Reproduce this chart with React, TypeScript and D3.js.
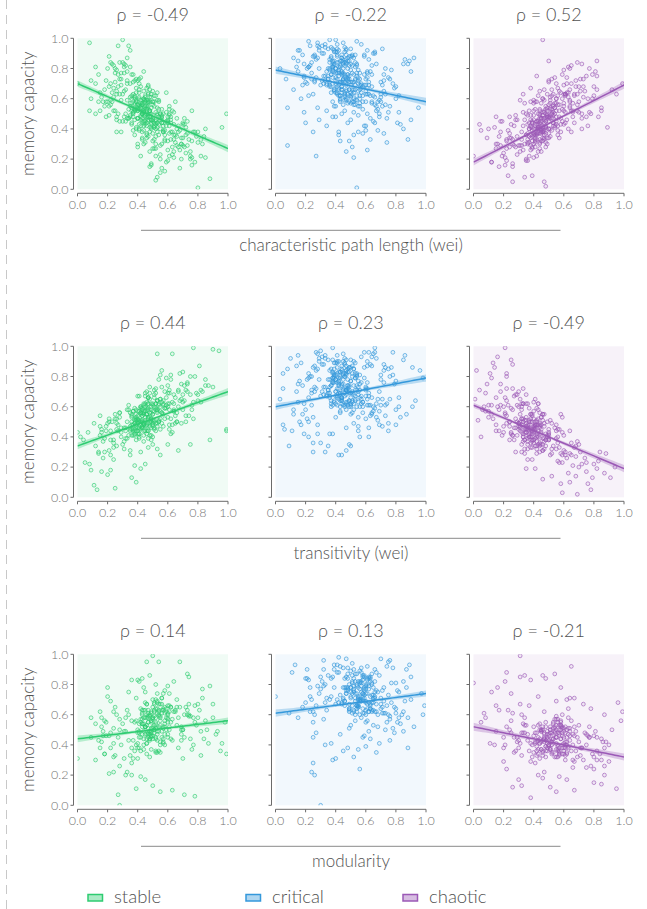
import React from "react";
import * as d3 from "d3";

const regimes = ["stable", "critical", "chaotic"];
const regimeColors = ["#2ecc71", "#3498db", "#9b59b6"];
const regimeBg = ["#f0fbf5", "#f2f8fd", "#f7f2f9"];
const metrics = ["characteristic path length (wei)", "transitivity (wei)", "modularity"];
const rhoLabels = [
  ["-0.49", "-0.22", "0.52"],
  ["0.44", "0.23", "-0.49"],
  ["0.14", "0.13", "-0.21"],
];
// regression line values at x = 0 and x = 1
const fitAtZero = [
  [0.7, 0.79, 0.18],
  [0.34, 0.6, 0.61],
  [0.44, 0.61, 0.52],
];
const fitAtOne = [
  [0.27, 0.58, 0.69],
  [0.7, 0.79, 0.19],
  [0.56, 0.74, 0.32],
];
// confidence band half widths: near the data centre and at the far edge
const bandMid = [
  [0.008, 0.008, 0.008],
  [0.008, 0.008, 0.008],
  [0.008, 0.008, 0.009],
];
const bandEdge = [
  [0.024, 0.026, 0.024],
  [0.024, 0.024, 0.024],
  [0.022, 0.024, 0.026],
];
const tickValues = [0, 0.2, 0.4, 0.6, 0.8, 1.0];
const tickLabels = ["0.0", "0.2", "0.4", "0.6", "0.8", "1.0"];

// scatter points as "XXYY" (x and y in hundredths)
const pathStable = `
4553 3862 5243 4140 3359 6142 2768 4735 5550 3654 4963 5836 2959 4072 4445 5056 4255 6635 3447 4866
5341 3958 4650 3165 5744 4347 6338 3751 4561 2461 5133 4056 6048 3570 4442 5458 3245 4852 7034 4160
3657 5546 4338 2863 6443 4759 3941 5227 4549 3370 5964 4254 2648 5037 4667 3853 6930 4444 5648 3148
4257 7329 3662 4946 5540 2256 4173 6153 3447 5032 4758 3940 6238 2577 4451 5344 3763 4838 6826 4056
5459 3045 4647 8031 3854 5141 4268 6536 3549 4555 2969 5739 4333 6044 3872 4950 2750 5262 4143 7522
3557 4637 5653 3266 4848 6246 4030 5359 3751 4465 2358 5529 4769 3643 6137 4254 3177 5046 4439 6920
3861 5158 4745 2665 4334 5742 3953 6433 4861 3548 4452 5235 2973 4764 6149 3739 4558 5523 4047 3372
8435 4357 5065 3644 6728 4948 2155 5436 4166 3856 5833 4659 3250 4941 7337 3967 5547 4242 2884 6244
4531 3660 5364 4052 7143 3453 4636 5951 2646 4768 3347 5230 4460 6032 3771 4851 1958 5644 4139 6629
3063 4954 5738 4350 3846 6233 4763 2552 5127 4545 0897 2795 3099 3495 1972 0852 1281 2284 2080 0960
5308 5206 8001 8807 9950 9641 7616 6814 8521 4917 5511 7621 6323 5812 4815 2638 2938 1458 1250 0972
2383 2482 2679 3084 3378 3581 3776 4274 4478 3183 2776 3387 7224 7029 6425 7520 7818 6421 8222 0070
`;
const pathStableMore = `
1564 1855 2168 2452 1270 1661 2259 2571 1948 2364 1758 2663 1476 2058 2845 2270 1552 2467 1866 2149
6045 6352 6738 7043 6248 6531 7236 5942 6839 7147 7433 7838 6451 6934 7345 8038 7632 6640 6155 5738
6930 7241 7525 8233 8540 6328 5945 6647 7044 7738 6150 5832 6436 6742 7128 7935 8330 6558 6026 7652
4248 4654 5047 4351 4757 5245 4153 4559 4944 5350 4460 4852 4047 4655 5141 5649 4642 4356 5144 4758
3959 4452 5058 4350 4946 4161 5354 3852 4748 4543 2580 2977 3282 3676 3973 4170 2873 3181 2188 3592
4430 4825 5222 4028 5630 6019 4634 5027 3836 4222 5520 5918 6122 4916 5614
3555 3860 4053 4249 4457 4648 4852 5045 5251 5443 3748 3958 4156 4350 4554 4746 4961 5142 5349 5647
3652 3857 4047 4259 4451 4644 4858 5049 5240 5453 3561 3750 4155 4345 4562 4750 4943 5155 5338 5750
4052 4246 4459 4653 4841 5058 5246 5448 5644 5839 3964 4164 4356 4548 4755 4940 5162 5344 5550 6046
`;
const pathCritical = `
4572 3881 5264 4163 3375 6167 2786 4759 5574 3671 4988 5862 2980 4091 4468 5079 4277 6661 3469 4887
5366 3982 4674 3190 5769 4371 6362 3776 4584 2473 5158 4080 6073 3593 4466 5482 3270 4876 7063 4184
3680 5570 4362 2887 6468 4784 3965 5251 4573 3394 5988 4278 2672 5062 4691 3878 6457 4468 5673 3172
4281 7356 3686 4971 5565 2281 4196 6178 3470 5057 4783 3966 6263 2588 4476 5369 3787 4863 6853 4080
5483 3069 4671 8060 3879 5166 4292 6562 3573 4580 2992 5764 4358 6069 3893 4975 2774 5287 4168 7551
3580 4662 5677 3290 4872 6271 4055 5384 3776 4489 2382 5555 4793 3668 6163 4279 3195 5071 4464 6950
3885 5182 4770 2689 4359 5767 3978 6458 4885 3573 4477 5260 2994 4789 6174 3764 4583 5549 4072 3396
8262 4382 5088 3669 6755 4973 2180 5462 4191 3881 5858 4684 3275 4966 7363 3991 5572 4267 2897 6269
4556 3684 5389 4077 7169 3478 4661 5976 2671 4792 3372 5256 4485 6058 3794 4876 1983 5669 4164 6656
0854 0829 1951 2044 2538 2722 3442 3848 4332 4236 4725 5128 5221 5401 5837 6126 6333 6839 7237 7431
8144 8540 8833 9046 9554 0773 0380 1287 1592 1975 8985 8883 9287 8686 9078 7193 5498 4099 3699 2895
`;
const pathCriticalMore = `
1578 1889 2170 2484 1266 1692 2281 2563 1974 2395 1760 2688 1481 2071 2854 2298 1585 2477 1869 2262
6065 6378 6752 7061 6286 6545 7272 5989 6858 7276 7447 7870 6482 6959 7380 8068 7655 6691 6177 5796
6948 7265 7574 8251 8583 6347 5969 6690 7071 7779 6192 5853 6476 6783 7155 7967 8343 6590 6042 7673
4275 4682 5064 4371 4786 5276 4193 4577 4966 5381 4487 4874 4069 4694 5171 5662 4663 4385 5189 4773
3983 4466 5093 4370 4985 4188 5373 3884 4765 4597 4450 4844 5236 4048 5655 6039 4652 5046 3858 4238
5538 5942 6150 4932 5657 3452 2946 3955 6644 7058
3575 3882 4070 4266 4478 4664 4873 5061 5271 5459 3768 3985 4173 4362 4576 4760 4982 5163 5372 5666
3679 3874 4064 4284 4471 4659 4880 5069 5258 5477 3788 3966 4177 4360 4586 4769 4958 5177 5356 5770
4074 4262 4487 4676 4857 5083 5266 5475 5660 5868 3992 4189 4381 4573 4766 4962 5188 5359 5579 6063
`;
const pathChaotic = `
4543 3836 5250 4132 3342 6151 2729 4747 5552 3637 4950 5847 2935 4057 4441 5045 4240 6651 3430 4855
5342 3944 4649 3125 5756 4345 6364 3735 4539 2428 5161 4049 6052 3519 4440 5454 3233 4845 7058 4128
3630 5557 4337 2846 6454 4752 3939 5266 4540 3326 5953 4233 2617 5040 4632 3858 6455 4447 5667 3129
4222 7361 3649 4948 5543 2227 4133 6163 3457 5048 4739 3928 6264 2534 4444 5363 3731 4853 6872 4021
5454 3029 4634 8068 3846 5154 4258 6552 3536 4547 2923 5765 4325 6057 3849 4934 2742 5273 4134 7548
3520 4660 5636 3238 4831 6274 4052 5347 3740 4427 2339 5560 4736 3619 6163 4237 3159 5071 4453 6952
3826 5159 4744 2633 4362 5734 3945 6466 4828 3550 4430 5262 2946 4759 6162 3752 4525 5560 4037 3363
8275 4341 5040 3643 6763 4949 2116 5457 4153 3834 5838 4660 3229 4963 7373 3941 5548 4237 2828 6270
4557 3633 5356 4059 7165 3446 4641 5976 2630 4766 3351 5253 4431 6069 3722 4841 1945 5662 4158 6657
4699 5085 6381 6984 6480 7780 8178 8285 7976 7283 0443 0022 1218 1715 2309 2605 3408 3909 4705 4802
9266 9563 9970 8552 8941 0539 0934 1040 1548 1845
`;
const pathChaoticMore = `
1527 1838 2121 2434 1218 1630 2233 2543 1922 2437 1735 2615 1441 2024 2849 2232 1530 2448 1829 2219
6055 6340 6762 7051 6246 6570 7240 5960 6868 7247 7465 7850 6458 6956 7368 8062 7660 6648 6163 5752
6963 7250 7575 8266 8554 6361 5945 6652 7068 7751 6144 5864 6459 6744 7173 7960 8348 6538 6063 7642
4245 4638 5047 4340 4746 5251 4143 4537 4948 5344 4452 4841 4036 4649 5153 5642 4639 4350 5147 4734
3944 4443 5056 4341 4949 4136 5355 3842 4751 4532 4465 5072 5570 3867 6079 6582 4275 5474
3536 3829 4040 4243 4433 4647 4837 5048 5239 5450 3744 3932 4137 4346 4544 4733 4952 5140 5351 5639
3631 3841 4046 4236 4449 4638 4845 5034 5250 5442 3740 3935 4131 4450 4538 4741 4930 5157 5344 5748
4030 4245 4437 4651 4842 5037 5247 5441 5656 5843 3927 4142 4340 4547 4738 4954 5135 5349 5545 6043
`;
const transStable = `
4753 3851 5249 4140 3350 6158 2744 4739 5560 3648 4962 5852 2943 4067 4448 5057 4251 6656 3441 4869
5347 3958 4655 3132 5764 4351 6363 3745 4560 2438 5168 4049 6062 3531 4449 5461 3244 4850 7063 4146
3641 5565 4347 2853 6458 4766 3938 5272 4550 3339 5961 4256 2634 5040 4663 3852 6468 4444 5663 3137
4260 7375 3655 4958 5545 2238 4167 6169 3461 5048 4762 3944 6278 2552 4449 5364 3757 4841 6882 4057
5450 3035 4655 8064 3849 5166 4256 6549 3545 4569 2946 5755 4350 6074 3859 4938 2748 5262 4142 7568
3556 4655 5673 3239 4865 6242 4054 5358 3748 4461 2350 5557 4744 3653 6171 4260 3146 5061 4437 6975
3842 5171 4766 2645 4359 5762 3951 6457 4873 3544 4456 5269 2940 4766 6148 3757 4567 5581 4049 3358
8271 4347 5062 3654 6771 4946 2131 5478 4157 3849 5859 4670 3246 4941 7370 3952 5565 4259 2856 6281
4557 3645 5364 4051 7164 3458 4642 5979 2649 4752 0523 0822 0918 1429 1726 1617 1108 1305 2015 2506
0438 0743 1149 1554 1947 0240 0043 9098 9497 7799 5395 5684 6395 7083 8187 9073 8578 8774 7763 9945
9944 7535 8838 6731 5332 3910 4219 3613 2218 1643
`;
const transStableMore = `
1541 1830 2150 2436 1234 1645 2228 2555 1944 2425 1737 2652 1430 2049 2856 2244 1547 2433 1839 2152
6060 6348 6770 7058 6252 6566 7250 5959 6864 7271 7454 7880 6462 6949 7376 8068 7658 6650 6162 5747
6965 7254 7580 8263 8574 6343 5966 6650 7068 7752 6145 5870 6457 6760 7174 7969 8370 6554 6069 7661
4248 4655 5051 4346 4753 5258 4150 4544 4956 5349 4462 4847 4042 4659 5151 5656 4644 4354 5160 4749
3947 4441 5055 4358 4952 4139 5364 3844 4758 4562 3528 4230 5035 4522 3821 5528 6035 4733
3547 3841 4052 4245 4455 4648 4856 5047 5259 5450 3744 3953 4145 4356 4551 4744 4960 5150 5358 5649
3650 3845 4046 4255 4448 4658 4849 5055 5244 5462 3741 3948 4151 4346 4553 4762 4950 5145 5356 5761
4044 4250 4457 4647 4853 5049 5262 5451 5656 5859 3955 4142 4354 4547 4759 4952 5146 5357 5552 6053
`;
const transCritical = `
4771 3879 5262 4161 3373 6165 2784 4758 5573 3669 4986 5860 2978 4089 4466 5077 4275 6659 3467 4885
5364 3980 4672 3188 5767 4369 6361 3774 4582 2471 5156 4078 6071 3591 4464 5480 3268 4874 7061 4182
3678 5568 4360 2885 6466 4782 3963 5249 4571 3392 5986 4276 2670 5060 4689 3876 6455 4466 5671 3170
4279 7354 3684 4969 5563 2279 4194 6176 3468 5055 4781 3964 6261 2586 4474 5367 3785 4861 6851 4078
5481 3067 4669 8058 3877 5164 4290 6560 3571 4578 2990 5762 4356 6067 3891 4973 2772 5285 4166 7549
3578 4660 5675 3288 4870 6269 4053 5382 3774 4487 2380 5553 4791 3666 6161 4277 3193 5069 4462 6948
3883 5180 4768 2687 4357 5765 3976 6456 4883 3571 4475 5258 2992 4787 6172 3762 4581 5547 4070 3394
8260 4380 5086 3667 6753 4971 2178 5460 4189 3879 5856 4682 3273 4964 7361 3989 5570 4265 2895 6267
0572 0548 0365 0645 0934 1144 1255 1650 1942 2240 2536 2848 3330 3534 3842 4228 4731 4935 5640 6246
7147 7544 8048 8755 9160 9364 0582 0885 1487 1789 7896 8694 9186 9684 9879 1092 1594 2796 3097 3899
`;
const transCriticalMore = `
1563 1874 2152 2469 1258 1677 2266 2553 1962 2480 1748 2673 1470 2058 2842 2282 1575 2461 1855 2250
6073 6388 6762 7078 6296 6557 7284 5996 6865 7288 7462 7881 6493 6970 7386 8077 7665 6699 6187 5793
6957 7276 7585 8266 8591 6354 5979 6696 7081 7786 6190 5863 6487 6792 7165 7975 8353 6595 6052 7680
4272 4680 5062 4369 4784 5274 4190 4575 4964 5379 4485 4872 4067 4692 5169 5660 4661 4383 5187 4771
3981 4464 5091 4368 4983 4186 5371 3882 4763 4595 3036 3642 4428 5034 5544 2530 4746 6240
3569 3876 4062 4274 4466 4680 4863 5077 5268 5482 3764 3979 4167 4383 4572 4762 4986 5170 5379 5666
3673 3861 4081 4269 4484 4667 4878 5061 5285 5474 3760 3982 4176 4364 4590 4771 4960 5182 5365 5776
4070 4283 4465 4688 4874 5066 5290 5471 5681 5863 3985 4172 4379 4561 4784 4974 5163 5389 5577 6072
`;
const transChaotic = `
4046 3352 4739 3637 2852 5636 2254 4232 5043 3144 4456 5334 2447 3562 3937 4548 3745 6128 2941 4362
4834 3451 4145 2641 5249 3840 5855 3230 4052 1941 4655 3543 5544 3060 3933 4950 2738 4344 6536 3635
3147 5045 3833 2361 5943 4250 3432 4755 4036 2846 5446 3742 2155 4535 4165 3348 5928 3938 5151 2641
3751 6827 3165 4447 5039 1758 3662 5640 2961 4542 4251 3429 5733 2047 3943 4838 3260 4335 6316 3549
4940 2543 4148 7523 3340 4631 3759 6031 3047 4047 2450 5232 3836 5548 3362 4430 2272 4749 3632 7020
3049 4148 5128 2746 4362 5723 3543 4842 3235 3955 1861 5038 4234 3150 5624 3746 2658 4553 3925 6429
3372 4655 4242 2166 3855 5229 3446 5953 4358 3049 3950 4732 2450 4229 5645 3262 4057 5041 3519 2868
0471 0165 0869 0975 1279 1486 1693 2199 2591 1389 1182 0760 0351 0658 1057 1544 0540 0284 2282 2688
7517 7913 8219 8324 8716 9113 6410 5903 6902 7609 7805 5214 4612 4119 3625 2830 5809 6814 8829 9420
`;
const transChaoticMore = `
1053 1566 2043 2559 1061 1548 2060 2542 0857 1261 1744 2264 1255 1870 2249 2767 1352 2156 1660 2438
5532 6041 6528 7035 5745 6226 6733 7222 5539 6444 6937 5829 6130 7426 6834 5923 6621 7130 8022 8430
3845 4439 3350 4243 3648 4147 3438 4553 3843 3258 4134 3954 4448 3740 4259 3545 4631 3252 4038 3647
2672 3070 3568 1875 2280 2968 3362 4063
3049 3243 3547 3641 3852 4038 4146 4340 4449 4635 3155 3337 3445 3750 3940 4248 4436 4543 4838 5042
3045 3252 3438 3646 3748 3942 4150 4241 4435 4747 3342 3551 3740 3944 4047 4139 4352 4545 4737 4941
2950 3146 3340 3553 3645 3850 4043 4237 4446 4639 3248 3443 3639 3855 4045 4240 4348 4434 4651 5038
`;
const modStable = `
5052 4360 5744 4641 3855 6653 3258 5236 6061 4149 5467 6343 3460 4575 4946 5559 4755 7145 3940 5369
5840 4463 5153 3628 6265 4849 6865 4236 5058 2940 5667 4547 6562 4031 4948 5962 3743 5351 7559 4644
4138 6066 4847 3363 6950 5270 4437 5774 5051 3836 6462 4755 3131 5540 5168 4354 6947 4945 6166 3638
4759 7866 4154 5463 6045 2745 4667 6665 3956 5535 5264 4440 6758 3054 4949 5865 4264 5335 7363 4552
5950 3533 5162 8556 4347 5671 4758 7050 4041 5065 3443 6255 4844 6563 4357 5436 3249 5763 4634 8067
4048 5167 6174 3731 5368 6738 4552 5861 4245 4961 2850 6057 5235 4148 6670 4761 3656 5567 4937 7459
4354 5671 5244 3149 4832 6265 4458 6952 5374 4038 0031 0945 1254 1642 1834 2121 2422 2707 2800 3322
3220 3620 4219 4517 5013 5509 6310 7107 7806 3911 4695 4886 5099 5495 6895 7387 7485 4182 4384 3683
8879 8377 9067 9058 9349 9641 9934 9855 1658 1946 2078 2565 0958 2432 2826 1746 8233 9536 8741 9247
`;
const modStableMore = `
1538 1856 2146 2462 1230 1652 2248 2533 1955 2441 1749 2660 1443 2072 2857 2238 1562 2451 1834 2269
7050 7360 7740 8058 7265 7544 7855 8249 7160 7637 8163 7467 7953 8444 7031 8371 7758 6943 7460 8650
4552 5058 5449 4763 5255 4844 5661 4660 5347 5070 4956 5542 4568 5159 4747 5852 5364 4951 4641 5764
4363 5245 6058 4955 5751 4667 5459 5150 4849 6162 3971 4478 5280 5876 6482 3475 4083 6079
4050 4257 4444 4653 4859 5046 5254 5460 5649 5856 4145 4361 4552 4748 4962 5150 5343 5558 5752 6047
4255 4449 4658 4843 5057 5251 5462 5645 5854 6060 4352 4563 4745 4956 5148 5361 5553 5742 5958 6150
4454 4647 4860 5044 5258 5452 5663 5847 6055 6244 4558 4751 4946 5163 5349 5556 5741 5964 6152 6357
`;
const modCritical = `
5570 4878 6262 5161 4373 7165 3784 5758 6573 4669 5986 6860 3978 5089 5466 6077 5275 7659 4467 5885
6364 4980 5672 4188 6767 5369 7361 4774 5582 3471 6156 5078 7071 4591 5464 6480 4268 5874 8061 5182
4678 6568 5360 3885 7466 5782 4963 6249 5571 4392 6986 5276 3670 6060 5689 4876 7455 5466 6671 4170
5279 8354 4684 5969 6563 3279 5194 7176 4468 6055 5781 4964 7261 3586 5474 6367 4785 5861 7851 5078
6481 4067 5669 8858 4877 6164 5290 7560 4571 5578 3990 6762 5356 7067 4891 5973 3772 6285 5166 8549
4578 5660 6675 4288 5870 7269 5053 6382 4774 5487 3380 6553 5791 4666 7161 5277 4193 6069 5462 7948
0072 0961 1188 1393 2184 2378 1865 1558 2362 2545 2528 2422 2620 3000 3340 3830 4031 4536 4838 5232
5624 5845 6039 6735 6941 7643 8155 8838 9252 9860 9774 9966 8993 7595 7696 7097 4797 3296 3993 4298
`;
const modCriticalMore = `
2068 2555 3077 2283 2748 3290 2562 2974 3368 2084 2372 3257 2766 3182 2190 2470 2879 3463 3085 2660
7573 8064 8582 9070 7781 8258 8778 9085 7965 7492 8275 8669 7891 8176 8460 7768 8081 8790 7657 8562
5572 6080 6462 5769 6284 5874 6690 5677 6364 6079 5985 6571 5566 6192 5769 6662 5682 6385 6174 5978
5387 6268 7064 5977 6788 5670 6473 6183 5864 7278 3741 4347 5537 6344 6852 7350 5946 4951
4570 4778 4964 5174 5382 5566 5775 5961 6180 6372 4669 4884 5072 5262 5479 5670 5886 6068 6277 6463
4776 4962 5186 5371 5565 5779 5971 6184 6366 6578 4887 5075 5263 5480 5669 5883 6074 6262 6487 6672
4967 5181 5374 5565 5788 5976 6167 6384 6570 6776 5071 5284 5466 5681 5872 6063 6279 6468 6682 6875
`;
const modChaotic = `
5244 4550 5938 4843 4052 6836 3453 5432 6245 4343 5655 6536 3647 4762 5137 5747 4945 7330 4141 5559
6034 4650 5344 3829 6449 5040 7053 4431 5248 3141 5855 4745 6746 4233 5138 6148 3940 5545 7745 4839
4334 6250 5039 3553 7138 5457 4633 5960 5242 4035 6647 4944 3348 5734 5354 4542 7133 5137 6351 3841
4949 8046 4345 5550 6240 2945 4855 6849 4148 5733 5452 4635 6945 3248 5142 6051 4454 5532 7547 4744
6140 3736 5351 8842 4537 5856 4947 7238 4236 5753 3643 6446 5040 6752 4549 5632 3448 5952 4832 8245
4242 5355 6358 3932 5557 6932 4747 6049 4441 5148 0081 0858 1275 1678 2288 2182 2574 1763 1566 3185
3486 3883 4686 4884 5487 6592 3199 5878 6270 6471 6771 7367 7864 8760 9668 9962 9856 9250 0555 0761
1549 1141 1440 2029 2224 2612 3017 3213 3805 4320 4618 5112 5509 6217 6710 7525 8015 8720 8514 9511
`;
const modChaoticMore = `
2045 2556 3038 2252 2735 3260 2548 2942 3354 2038 2363 3233 2745 3167 2140 2450 2836 3458 3043 2661
7540 8032 8544 9029 7745 8236 8726 9040 7934 7448 8230 8642 7826 8149 8434 7752 8024 8738 7646 8530
5545 6038 6451 5735 6242 5853 6630 5648 6339 6045 5934 6556 5541 6133 5750 6640 5636 6347 6130 5844
5347 6235 7042 5951 6729 5657 6443 6138 5850 7238 3766 4372 5569 6364 4128 4722 5719 6625
4046 4239 4450 4643 4836 5047 5240 5451 5637 5844 4142 4353 4537 4748 4941 5152 5335 5545 5738 5948
4248 4441 4636 4852 5043 5234 5449 5640 5852 6036 4337 4549 4744 4938 5150 5341 5553 5736 5946 6142
4444 4652 4839 5046 5235 5448 5639 5853 6041 6234 4550 4742 4936 5150 5344 5537 5748 5940 6152 6338
`;

const pointSets = [
  [pathStable + pathStableMore, pathCritical + pathCriticalMore, pathChaotic + pathChaoticMore],
  [transStable + transStableMore, transCritical + transCriticalMore, transChaotic + transChaoticMore],
  [modStable + modStableMore, modCritical + modCriticalMore, modChaotic + modChaoticMore],
];

function parsePoints(s: string): [number, number][] {
  return s
    .trim()
    .split(/\s+/)
    .map((t) => [+t.slice(0, 2) / 100, +t.slice(2, 4) / 100] as [number, number]);
}

const W = 647;
const H = 909;
const plotLeft = [77.5, 275.5, 473.5];
const plotW = 150.5;
const plotTop0 = 38.3;
const rowStep = 308;
const plotH = 151;
const FONT = "Lato, 'Open Sans', sans-serif";
const TEXT = "#525252";
const WEIGHT = 300;

function Panel({ row, col }: { row: number; col: number }) {
  const x0 = plotLeft[col];
  const y0 = plotTop0 + row * rowStep;
  const x = d3.scaleLinear().domain([0, 1]).range([x0, x0 + plotW]);
  const y = d3.scaleLinear().domain([0, 1]).range([y0 + plotH, y0]);
  const pts = parsePoints(pointSets[row][col]);
  const color = regimeColors[col];
  const a = fitAtZero[row][col];
  const b = fitAtOne[row][col];
  const fit = (v: number) => a + (b - a) * v;
  const xm = d3.mean(pts, (p) => p[0]) ?? 0.5;
  const far = Math.max(xm, 1 - xm);
  const c = bandMid[row][col];
  const e = bandEdge[row][col];
  const k = (e * e - c * c) / (far * far);
  const hw = (v: number) => Math.sqrt(c * c + k * (v - xm) * (v - xm));
  const xs = d3.range(0, 1.0001, 0.02);
  const area = d3
    .area<number>()
    .x((v) => x(v))
    .y0((v) => y(fit(v) - hw(v)))
    .y1((v) => y(fit(v) + hw(v)));
  const line = d3
    .line<number>()
    .x((v) => x(v))
    .y((v) => y(fit(v)));
  const clipId = `clip-${row}-${col}`;
  const axisY = y0 + plotH + 4;
  const axisX = x0 - 4;
  const axisColor = "#6b6b6b";
  return (
    <g>
      <defs>
        <clipPath id={clipId}>
          <rect x={x0} y={y0} width={plotW} height={plotH} />
        </clipPath>
      </defs>
      <rect x={x0} y={y0} width={plotW} height={plotH} fill={regimeBg[col]} />
      <g clipPath={`url(#${clipId})`}>
        {pts.map((p, i) => (
          <circle
            key={i}
            cx={x(p[0])}
            cy={y(p[1])}
            r={1.9}
            fill={color}
            fillOpacity={0.08}
            stroke={color}
            strokeOpacity={0.75}
            strokeWidth={0.85}
          />
        ))}
        <path d={area(xs) ?? ""} fill={color} fillOpacity={0.3} />
        <path d={line(xs) ?? ""} fill="none" stroke={color} strokeWidth={1.5} />
      </g>
      <line x1={x(0)} x2={x(1)} y1={axisY} y2={axisY} stroke={axisColor} strokeWidth={1} />
      {tickValues.map((t, i) => (
        <g key={"xt" + i}>
          <line x1={x(t)} x2={x(t)} y1={axisY} y2={axisY + 3} stroke={axisColor} />
          <text
            x={x(t)}
            y={axisY + 15.5}
            textAnchor="middle"
            fontSize={12.5}
            fill="#747474"
            fontFamily={FONT}
            fontWeight={WEIGHT}
          >
            {tickLabels[i]}
          </text>
        </g>
      ))}
      <line x1={axisX} x2={axisX} y1={y(0)} y2={y(1)} stroke={axisColor} strokeWidth={1} />
      {tickValues.map((t, i) => (
        <g key={"yt" + i}>
          <line x1={axisX - 3} x2={axisX} y1={y(t)} y2={y(t)} stroke={axisColor} />
          {col === 0 && (
            <text
              x={axisX - 5}
              y={y(t) + 4.3}
              textAnchor="end"
              fontSize={12.5}
              fill="#747474"
              fontFamily={FONT}
              fontWeight={WEIGHT}
            >
              {tickLabels[i]}
            </text>
          )}
        </g>
      ))}
      <text
        x={x0 + plotW / 2}
        y={y0 - 17.5}
        textAnchor="middle"
        fontSize={18}
        fill={TEXT}
        fontFamily={FONT}
        fontWeight={WEIGHT}
      >
        {`ρ = ${rhoLabels[row][col]}`}
      </text>
      {col === 0 && (
        <text
          transform={`translate(${34},${y0 + plotH / 2}) rotate(-90)`}
          textAnchor="middle"
          fontSize={17}
          fill={TEXT}
          fontFamily={FONT}
          fontWeight={WEIGHT}
        >
          memory capacity
        </text>
      )}
    </g>
  );
}

export default function App() {
  const legendX = [88, 246, 403];
  return (
    <svg
      width={W}
      height={H}
      style={{ position: "absolute", left: 0, top: 0, background: "#fff" }}
    >
      <line x1={6.5} x2={6.5} y1={0} y2={H} stroke="#c8c8c8" strokeWidth={1} strokeDasharray="9,6" />
      {metrics.map((m, row) => (
        <g key={m}>
          {regimes.map((r, col) => (
            <Panel key={r} row={row} col={col} />
          ))}
          <line
            x1={141}
            x2={560.5}
            y1={230.3 + row * rowStep}
            y2={230.3 + row * rowStep}
            stroke="#8a8a8a"
            strokeWidth={1}
          />
          <text
            x={351}
            y={250.5 + row * rowStep}
            textAnchor="middle"
            fontSize={17}
            fill={TEXT}
            fontFamily={FONT}
            fontWeight={WEIGHT}
          >
            {m}
          </text>
        </g>
      ))}
      {regimes.map((r, i) => (
        <g key={"lg" + r}>
          <rect
            x={legendX[i]}
            y={894.5}
            width={14.5}
            height={6.5}
            fill={regimeColors[i]}
            fillOpacity={0.4}
            stroke={regimeColors[i]}
            strokeWidth={1.5}
          />
          <text
            x={legendX[i] + 26}
            y={903}
            fontSize={18.5}
            fill={TEXT}
            fontFamily={FONT}
            fontWeight={WEIGHT}
          >
            {r}
          </text>
        </g>
      ))}
    </svg>
  );
}
